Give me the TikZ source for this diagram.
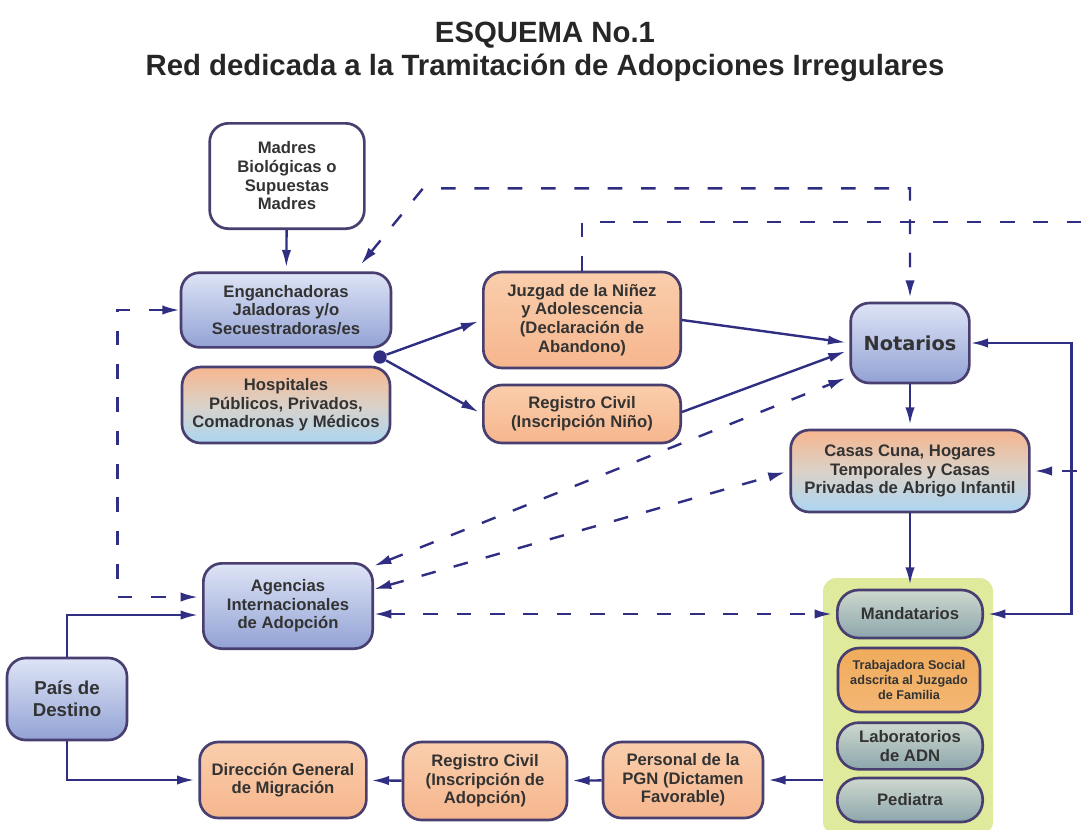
\documentclass[tikz,border=0pt]{standalone}
\usepackage{fontspec}
\setmainfont{Liberation Sans}
\newfontfamily\notafont{DejaVu Sans}
\usetikzlibrary{arrows.meta,calc}

\definecolor{linea}{RGB}{48,46,130}
\definecolor{borde}{RGB}{72,62,112}
\definecolor{azularriba}{RGB}{222,228,246}
\definecolor{azulabajo}{RGB}{146,162,212}
\definecolor{narriba}{RGB}{250,206,172}
\definecolor{nabajo}{RGB}{246,182,142}
\definecolor{celeste}{RGB}{172,214,242}
\definecolor{grisarriba}{RGB}{206,216,206}
\definecolor{grisabajo}{RGB}{140,166,172}
\definecolor{trabajo}{RGB}{240,172,92}
\definecolor{panelverde}{RGB}{224,234,156}

\begin{document}
\begin{tikzpicture}[x=0.75pt, y=-0.75pt, >={Latex[length=13pt,width=7pt]},
	caja/.style = {draw=borde, line width=2pt, rounded corners=14pt, align=center, inner sep=2pt, text=black!80, font=\fontsize{12.5}{14}\selectfont\bfseries},
	blanca/.style = {caja, fill=white},
	azul/.style = {caja, top color=azularriba, bottom color=azulabajo},
	naranja/.style = {caja, top color=narriba, bottom color=nabajo},
	mixta/.style = {caja, top color=nabajo, bottom color=celeste, middle color=narriba!60!celeste},
	gris/.style = {caja, rounded corners=16pt, top color=grisarriba, bottom color=grisabajo},
	titulo/.style = {anchor=base, text=black!85, font=\fontsize{22}{26}\selectfont\bfseries},
	flecha/.style = {draw=linea, line width=1.8pt, ->, shorten >=3pt},
	rayas/.style = {flecha, dash pattern=on 11pt off 14pt},
	]
	\useasboundingbox (0,0) rectangle (1084,829);
	\clip (0,0) rectangle (1084,829);

	\node[titulo] (20) at (545,42) {ESQUEMA No.1};
	\node[titulo] (21) at (545,75) {Red dedicada a la Tramitación de Adopciones Irregulares};

	\node[fill=panelverde, rounded corners=10pt, minimum width=127.5pt, minimum height=192.75pt] (17) at (908,706.5) {};

	\node[blanca, minimum width=116pt, minimum height=79pt] (1) at (287,176) {Madres\\Biológicas o\\Supuestas\\Madres};
	\node[azul, minimum width=157.5pt, minimum height=56pt] (2) at (286,310) {Enganchadoras\\Jaladoras y/o\\Secuestradoras/es};
	\node[mixta, minimum width=156pt, minimum height=57pt] (3) at (286,405) {Hospitales\\Públicos, Privados,\\Comadronas y Médicos};
	\node[naranja, minimum width=148pt, minimum height=72pt] (4) at (582,320) {Juzgad de la Niñez\\y Adolescencia\\(Declaración de\\Abandono)};
	\node[naranja, minimum width=148pt, minimum height=43.5pt] (5) at (582,414) {Registro Civil\\(Inscripción Niño)};
	\node[azul, minimum width=89pt, minimum height=60pt, font=\notafont\fontsize{14.5}{16}\selectfont\bfseries] (6) at (910,343) {Notarios};
	\node[mixta, minimum width=179pt, minimum height=61.5pt] (7) at (910,471) {Casas Cuna, Hogares\\Temporales y Casas\\Privadas de Abrigo Infantil};
	\node[gris, minimum width=109pt, minimum height=36pt] (8) at (910,614) {Mandatarios};
	\node[caja, rounded corners=16pt, top color=trabajo, bottom color=trabajo!70!narriba, minimum width=106.5pt, minimum height=48pt, font=\fontsize{9.5}{11.5}\selectfont\bfseries] (9) at (909,680) {Trabajadora Social\\adscrita al Juzgado\\de Familia};
	\node[gris, minimum width=109pt, minimum height=35pt] (10) at (910,746) {Laboratorios\\de ADN};
	\node[gris, minimum width=109pt, minimum height=33pt] (11) at (910,800) {Pediatra};
	\node[azul, minimum width=127pt, minimum height=64pt] (12) at (288,606) {Agencias\\Internacionales\\de Adopción};
	\node[azul, minimum width=90pt, minimum height=61.5pt, font=\fontsize{14}{16.5}\selectfont\bfseries] (13) at (67,699) {País de\\Destino};
	\node[naranja, minimum width=125pt, minimum height=57pt] (14) at (283,780) {Dirección General\\de Migración};
	\node[naranja, minimum width=123pt, minimum height=58.5pt] (15) at (485,781) {Registro Civil\\(Inscripción de\\Adopción)};
	\node[naranja, minimum width=120pt, minimum height=57pt] (16) at (683,780) {Personal de la\\PGN (Dictamen\\Favorable)};

	\node[circle, fill=linea, inner sep=0pt, minimum size=10pt] (18) at (380,357) {};

	\draw[flecha] (1) -- (2);
	\draw[flecha] (18) -- (4.west);
	\draw[flecha] (18) -- (5.west);
	\draw[flecha] (4.east) -- (6.west);
	\draw[flecha] ($(5.east)+(0,-2)$) -- ($(6.west)+(0,7)$);
	\draw[flecha] (6) -- (7);
	\draw[flecha] (7) -- (8);
	\draw[flecha] (17.west |- 16) -- (16);
	\draw[flecha] (16) -- (15);
	\draw[flecha] (15) -- (14);
	\draw[flecha] (13.north) |- ($(12.west)+(0,9)$);
	\draw[flecha] (13.south) |- (14.west);
	\draw[flecha, <->] (6.east) -| ($(8.east)+(87.5,0)$) -- (8.east);
	\draw[rayas, <->] (12.25) -- (6.209);
	\draw[rayas, <->] (12.11) -- (7.west);
	\draw[rayas, <->] (12.east |- 8) -- (8.west);
	\draw[rayas, <->] (2.west) -| ($(12.west)+(-84.5,-9)$) -- ($(12.west)+(0,-9)$);
	\draw[rayas, <->] ($(2.north)+(75,-7)$) -- ($(2.north)+(137,-83)$) -| (6.north);
	\draw[rayas] (4.north) |- ($(7.east)+(100,-249)$) |- (7.east);
\end{tikzpicture}
\end{document}
